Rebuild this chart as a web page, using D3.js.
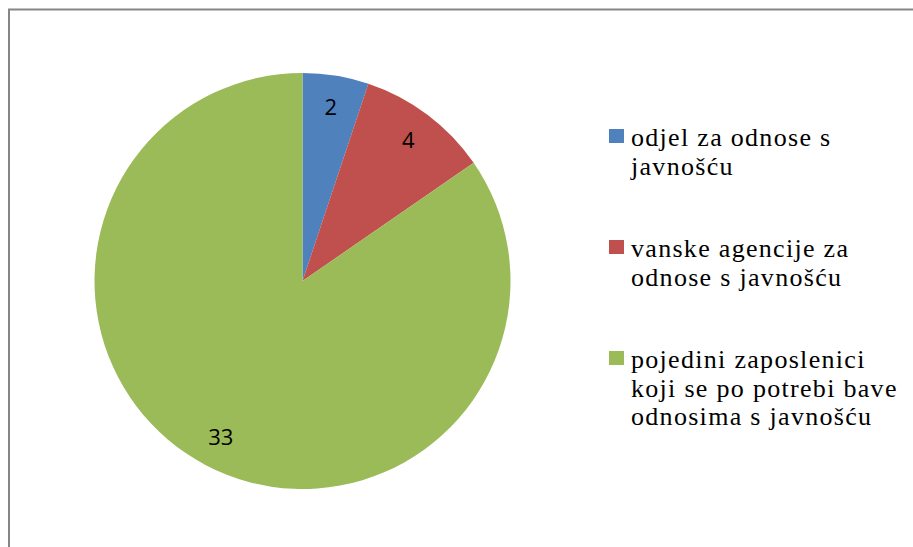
<!DOCTYPE html>
<html>
<head>
<meta charset="utf-8">
<script src="https://cdn.jsdelivr.net/npm/d3@7"></script>
<style>
  body { margin: 0; background: #fff; }
  svg { display: block; }
  .legend-text { font-family: "Liberation Serif", "Times New Roman", serif; font-size: 26px; letter-spacing: 1.3px; }
  .lbl { font-family: "Open Sans", "Liberation Sans", sans-serif; font-size: 22px; }
</style>
</head>
<body>
<div id="chart"></div>
<script>
// slice data
const categories = [
  "odjel za odnose s javnošću",
  "vanske agencije za odnose s javnošću",
  "pojedini zaposlenici koji se po potrebi bave odnosima s javnošću"
];
const values = [2, 4, 33];
const colors = ["#4F81BD", "#C0504D", "#9BBB59"];
// legend lines as wrapped in the original
const legendLines = [
  ["odjel za odnose s", "javnošću"],
  ["vanske agencije za", "odnose s javnošću"],
  ["pojedini zaposlenici", "koji se po potrebi bave", "odnosima s javnošću"]
];

const width = 913, height = 547;
const cx = 302.5, cy = 281, radius = 208;

const svg = d3.select("#chart").append("svg")
  .attr("width", width)
  .attr("height", height);

// chart border
svg.append("rect")
  .attr("x", 9).attr("y", 9.5)
  .attr("width", width + 10).attr("height", height + 10)
  .attr("fill", "none")
  .attr("stroke", "#868686")
  .attr("stroke-width", 2);

const pie = d3.pie().sort(null).value(d => d);
const arcs = pie(values);
const arc = d3.arc().innerRadius(0).outerRadius(radius);
const labelArc = d3.arc().innerRadius(176).outerRadius(176);

const g = svg.append("g").attr("transform", `translate(${cx},${cy})`);

g.selectAll("path.slice")
  .data(arcs)
  .enter()
  .append("path")
  .attr("class", "slice")
  .attr("d", arc)
  .attr("fill", (d, i) => colors[i]);

g.selectAll("text.lbl")
  .data(arcs)
  .enter()
  .append("text")
  .attr("class", "lbl")
  .attr("transform", d => `translate(${labelArc.centroid(d)})`)
  .attr("text-anchor", "middle")
  .attr("dy", "0.36em")
  .attr("fill", "#000")
  .text(d => d.data);

// legend
const legendX = 609, textX = 631;
const itemTop = [146, 257, 368];
const lineH = 28.5;

const legend = svg.append("g");
categories.forEach((c, i) => {
  legend.append("rect")
    .attr("x", legendX)
    .attr("y", itemTop[i] - 17)
    .attr("width", 15).attr("height", 14)
    .attr("fill", colors[i]);
  const t = legend.append("text")
    .attr("class", "legend-text")
    .attr("fill", "#000");
  legendLines[i].forEach((ln, j) => {
    t.append("tspan")
      .attr("x", textX)
      .attr("y", itemTop[i] + j * lineH)
      .text(ln);
  });
});
</script>
</body>
</html>
